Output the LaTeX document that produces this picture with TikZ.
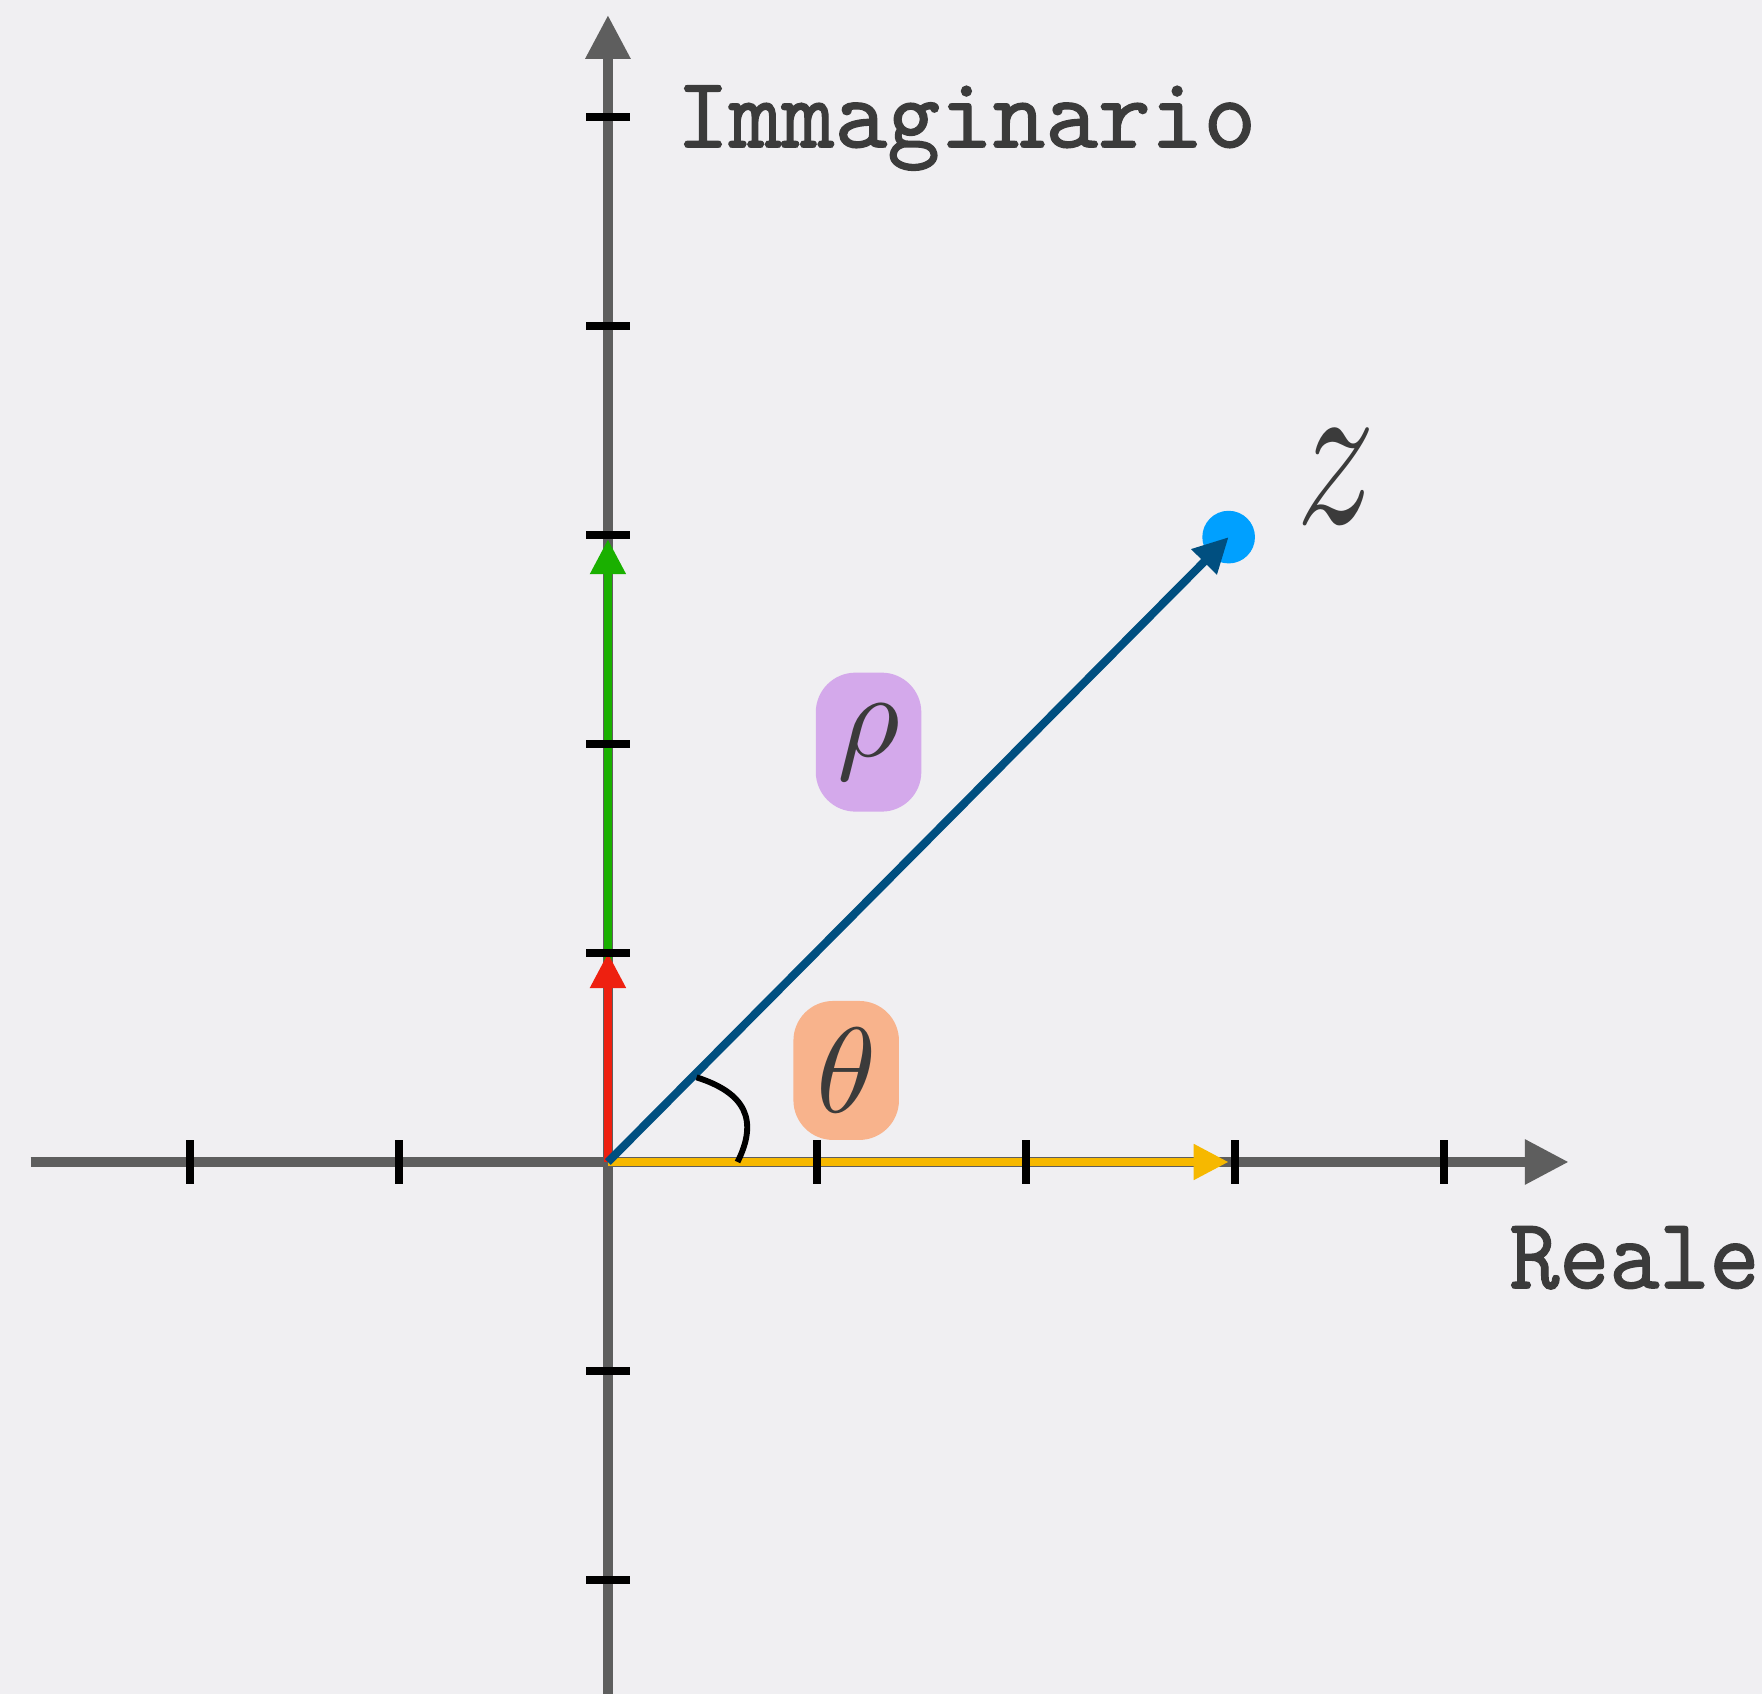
\documentclass[tikz,border=0pt]{standalone}
\usepackage{graphicx}
\usepackage{fontspec}
\newfontfamily\labelfont[Extension=.otf, FakeBold=1.2]{lmmono10-regular}
\usetikzlibrary{arrows.meta}
\definecolor{bgcol}{HTML}{F0EFF2}
\definecolor{axiscol}{HTML}{5E5E5E}
\definecolor{textcol}{HTML}{3B3B3B}
\definecolor{realcol}{HTML}{F6B800}
\definecolor{imagcol}{HTML}{1AB000}
\definecolor{unitcol}{HTML}{EE2010}
\definecolor{modcol}{HTML}{004F80}
\definecolor{pointcol}{HTML}{00A0FF}
\definecolor{rhocol}{HTML}{D4A9EB}
\definecolor{thetacol}{HTML}{F8B38C}
\tikzset{
  axis line/.style={
    -{Triangle[length=4.2mm, width=4.1mm]},
    line width=2.7pt,
    color=axiscol
  },
  tick mark/.style={
    line width=2.2pt,
    color=black
  },
  vector/.style={
    -{Triangle[length=3.35mm, width=3.25mm]},
    line width=2.2pt
  },
  angle arc/.style={
    draw=black,
    line width=1.6pt
  },
  tag box/.style={
    rounded corners=3.8mm,
    minimum width=10.1mm,
    minimum height=13.3mm,
    inner sep=0pt,
    text=textcol,
    font=\fontsize{10}{12}\selectfont
  },
  point dot/.style={
    circle,
    fill=pointcol,
    inner sep=0pt,
    minimum size=5.04mm
  },
  axis label/.style={
    text=textcol,
    inner sep=0pt,
    anchor=base west,
    font=\fontsize{27.6}{30}\selectfont\labelfont
  }
}

\begin{document}
\begin{tikzpicture}[x=2cm, y=2cm]
    \useasboundingbox[fill=bgcol] (-2.909, -2.545) rectangle (5.522, 5.560);

    % 坐标轴
    \coordinate (Origin) at (0, 0);
    \coordinate (XStart) at (-2.763, 0);
    \coordinate (XEnd) at (4.597, 0);
    \coordinate (YStart) at (0, -2.545);
    \coordinate (YEnd) at (0, 5.488);
    \draw[axis line] (XStart) -- (XEnd);
    \draw[axis line] (YStart) -- (YEnd);

    % 实部、虚部和 i
    \coordinate (ReTip) at (2.97, 0);
    \coordinate (ImTip) at (0, 2.98);
    \coordinate (UnitTip) at (0, 1);
    \draw[vector, imagcol] (Origin) -- (ImTip);
    \draw[vector, unitcol] (Origin) -- (UnitTip);
    \draw[vector, realcol] (Origin) -- (ReTip);

    % 点 z 与模
    \node[point dot] (ZDot) at (2.97, 2.99) {};
    \draw[vector, modcol] (Origin) -- (ZDot.center);

    % 刻度
    \foreach \x in {-2, -1, 1, 2, 3, 4}
      \draw[tick mark] (\x, -0.105) -- (\x, 0.105);
    \foreach \y in {-2, -1, 1, 2, 3, 4, 5}
      \draw[tick mark] (-0.105, \y) -- (0.105, \y);

    % 角度
    \draw[angle arc] (0.424, 0.405) .. controls (0.66, 0.33) and (0.72, 0.2) .. (0.62, 0);

    % 标签
    \node[tag box, fill=rhocol] (RhoTag) at (1.247, 2.009) {\scalebox{3.3}{$\rho$}};
    \node[tag box, fill=thetacol] (ThetaTag) at (1.14, 0.438) {\scalebox{3.3}{$\theta$}};
    \node[text=textcol, inner sep=0pt, font=\fontsize{10}{12}\selectfont] (ZLabel) at (3.487, 3.278) {\scalebox{4.25}[5.9]{$z$}};
    \node[axis label] (ImLabel) at (0.325, 4.855) {\scalebox{0.99}[1]{Immaginario}};
    \node[axis label] (ReLabel) at (4.31, -0.604) {\scalebox{0.94}[1]{Reale}};

  \end{tikzpicture}
\end{document}
